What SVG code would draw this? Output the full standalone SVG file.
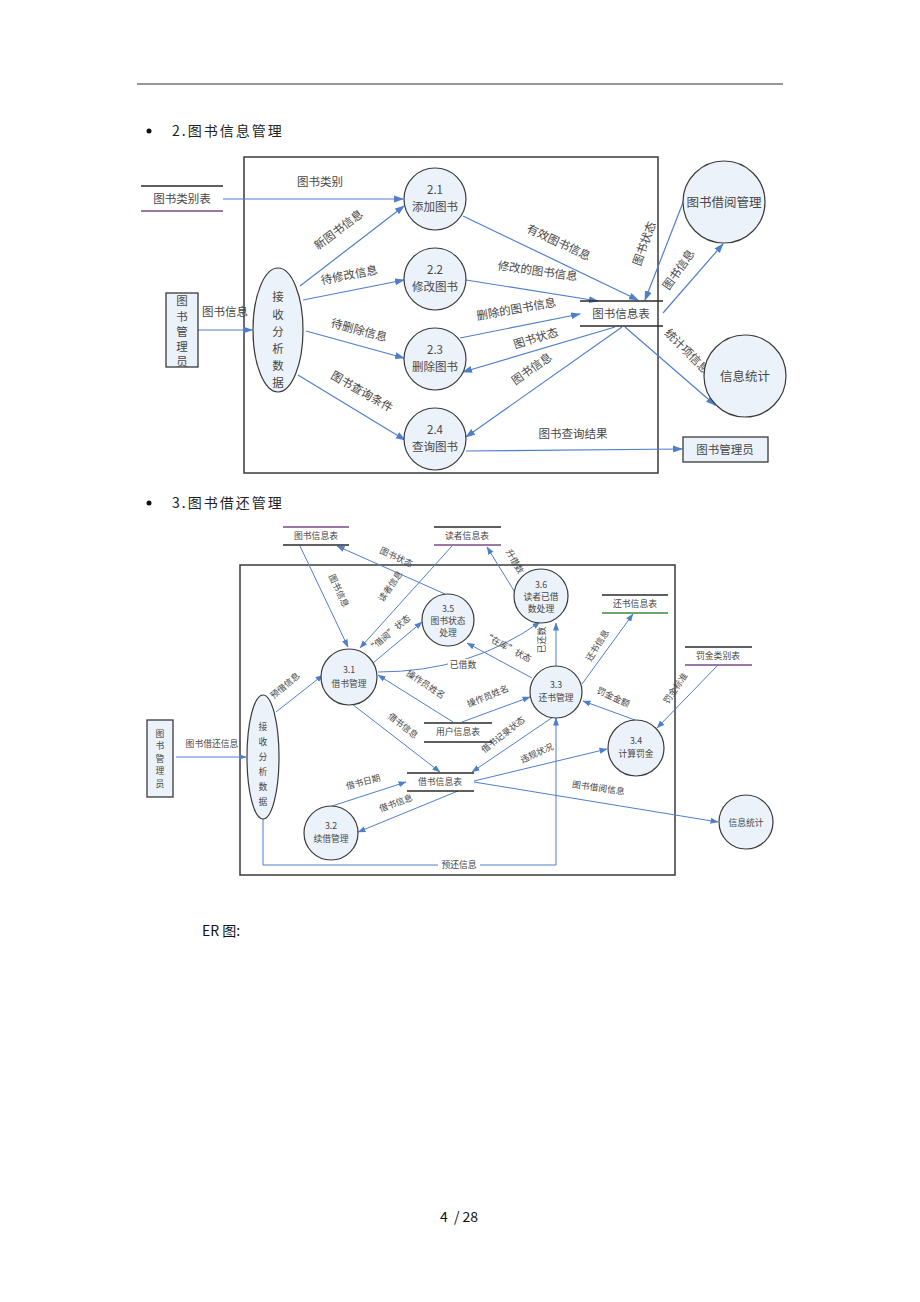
<svg xmlns="http://www.w3.org/2000/svg" width="920" height="1302" viewBox="0 0 920 1302">
<defs>
<style>
text{font-family:"Noto Sans CJK SC","Liberation Sans",sans-serif;fill:#474747}
.h{font-size:14px;letter-spacing:2px;fill:#222}
.t1{font-size:11.5px;text-anchor:middle}
.t2{font-size:8.8px;text-anchor:middle}
.c{fill:#ecf2f9;stroke:#3a3a3a;stroke-width:1.2}
.frame{fill:none;stroke:#3a3a3a;stroke-width:1.5}
.st{stroke:#2a2a2a;stroke-width:1.3}
.stp{stroke:#7a4a86;stroke-width:1.3}
.stg{stroke:#3a8a3a;stroke-width:1.3}
.a1{fill:none;stroke:#4f7fcc;stroke-width:1.2;marker-end:url(#m1)}
.a2{fill:none;stroke:#4f7fcc;stroke-width:1;marker-end:url(#m2)}
</style>
<marker id="m1" markerWidth="10" markerHeight="8" refX="9" refY="4" orient="auto" markerUnits="userSpaceOnUse"><path d="M0,0.5 L10,4 L0,7.5 z" fill="#4f7fcc"/></marker>
<marker id="m2" markerWidth="8" markerHeight="7" refX="7.5" refY="3.5" orient="auto" markerUnits="userSpaceOnUse"><path d="M0,0.5 L8,3.5 L0,6.5 z" fill="#4f7fcc"/></marker>
</defs>
<rect width="920" height="1302" fill="#fff"/>
<line x1="137" y1="84" x2="783" y2="84" stroke="#333" stroke-width="1.2"/>

<!-- Section 2 -->
<circle cx="149" cy="131" r="2.5" fill="#111"/>
<text class="h" x="172" y="136">2.图书信息管理</text>

<g id="frame2"><rect class="frame" x="244" y="157" width="414" height="316"/></g>

<g id="connectors2">
<line class="a1" x1="223" y1="199" x2="403" y2="199"/>
<line class="a1" x1="198" y1="330" x2="252" y2="330"/>
<line class="a1" x1="300" y1="286" x2="404" y2="206"/>
<line class="a1" x1="303" y1="300" x2="404" y2="280"/>
<line class="a1" x1="306" y1="331" x2="404" y2="358"/>
<line class="a1" x1="298" y1="375" x2="405" y2="440"/>
<line class="a1" x1="463" y1="216" x2="638" y2="300"/>
<line class="a1" x1="466" y1="280" x2="598" y2="301"/>
<line class="a1" x1="460" y1="338" x2="580" y2="314"/>
<line class="a1" x1="615" y1="327" x2="463" y2="372"/>
<line class="a1" x1="622" y1="327" x2="466" y2="437"/>
<line class="a1" x1="466" y1="451" x2="682" y2="449"/>
<line class="a1" x1="684" y1="200" x2="645" y2="300"/>
<line class="a1" x1="663" y1="313" x2="723" y2="244"/>
<line class="a1" x1="625" y1="327" x2="715" y2="405"/>
<text class="t1" x="320" y="186">图书类别</text>
<text class="t1" x="225" y="316">图书信息</text>
<text class="t1" transform="translate(341,233) rotate(-37)">新图书信息</text>
<text class="t1" transform="translate(350,279) rotate(-11)">待修改信息</text>
<text class="t1" transform="translate(358,334) rotate(15)">待删除信息</text>
<text class="t1" transform="translate(360,395) rotate(30)">图书查询条件</text>
<text class="t1" transform="translate(557,246) rotate(25)">有效图书信息</text>
<text class="t1" transform="translate(537,275) rotate(8)">修改的图书信息</text>
<text class="t1" transform="translate(517,313) rotate(-10)">删除的图书信息</text>
<text class="t1" transform="translate(537,342) rotate(-17)">图书状态</text>
<text class="t1" transform="translate(534,372) rotate(-35)">图书信息</text>
<text class="t1" x="573" y="438">图书查询结果</text>
<text class="t1" transform="translate(648,245) rotate(-70)">图书状态</text>
<text class="t1" transform="translate(682,272) rotate(-55)">图书信息</text>
<text class="t1" transform="translate(684,354) rotate(45)">统计项信息</text>
</g>

<g id="store-category">
<line class="st" x1="141" y1="186" x2="223" y2="186"/>
<line class="stp" x1="141" y1="211" x2="223" y2="211"/>
<text class="t1" x="182" y="203">图书类别表</text>
</g>
<g id="admin2">
<rect x="166" y="293" width="32" height="74" fill="#ecf2f9" stroke="#3a3a3a" stroke-width="1.3"/>
<text class="t1" x="182" y="305">图</text>
<text class="t1" x="182" y="321">书</text>
<text class="t1" x="182" y="336">管</text>
<text class="t1" x="182" y="351">理</text>
<text class="t1" x="182" y="366">员</text>
</g>
<g id="recv2">
<ellipse class="c" cx="278" cy="330" rx="25" ry="62"/>
<text class="t1" x="278" y="301">接</text>
<text class="t1" x="278" y="319">收</text>
<text class="t1" x="278" y="336">分</text>
<text class="t1" x="278" y="353">析</text>
<text class="t1" x="278" y="370">数</text>
<text class="t1" x="278" y="387">据</text>
</g>
<g id="p21"><circle class="c" cx="435" cy="199" r="31"/><text class="t1" x="435" y="194">2.1</text><text class="t1" x="435" y="211">添加图书</text></g>
<g id="p22"><circle class="c" cx="435" cy="279" r="31"/><text class="t1" x="435" y="274">2.2</text><text class="t1" x="435" y="291">修改图书</text></g>
<g id="p23"><circle class="c" cx="435" cy="359" r="31"/><text class="t1" x="435" y="354">2.3</text><text class="t1" x="435" y="371">删除图书</text></g>
<g id="p24"><circle class="c" cx="435" cy="439" r="31"/><text class="t1" x="435" y="434">2.4</text><text class="t1" x="435" y="451">查询图书</text></g>
<g id="store-bookinfo">
<line class="st" x1="580" y1="301" x2="663" y2="301"/>
<line class="st" x1="580" y1="326" x2="663" y2="326"/>
<text class="t1" x="621" y="318">图书信息表</text>
</g>
<g id="borrowmgr"><circle class="c" cx="724" cy="202" r="41"/><text class="t1" x="724" y="207" style="font-size:12.5px">图书借阅管理</text></g>
<g id="stats2"><circle class="c" cx="745" cy="376" r="41"/><text class="t1" x="745" y="381" style="font-size:12.5px">信息统计</text></g>
<g id="admin2b"><rect x="683" y="437" width="85" height="25" fill="#ecf2f9" stroke="#3a3a3a" stroke-width="1.3"/><text class="t1" x="725" y="454">图书管理员</text></g>

<!-- Section 3 -->
<circle cx="149" cy="503" r="2.5" fill="#111"/>
<text class="h" x="172" y="508">3.图书借还管理</text>

<g id="frame3"><rect class="frame" x="240" y="565" width="435" height="310"/></g>

<g id="connectors3">
<line class="a2" x1="176" y1="757" x2="246" y2="757"/>
<line class="a2" x1="276" y1="712" x2="323" y2="675"/>
<line class="a2" x1="300" y1="546" x2="348" y2="647"/>
<line class="a2" x1="452" y1="546" x2="360" y2="648"/>
<line class="a2" x1="445" y1="594" x2="337" y2="546"/>
<line class="a2" x1="373" y1="663" x2="422" y2="622"/>
<line class="a2" x1="516" y1="594" x2="487" y2="547"/>
<line class="a2" x1="556" y1="666" x2="556" y2="623"/>
<line class="a2" x1="532" y1="678" x2="467" y2="643"/>
<path class="a2" d="M378,672 Q470,672 540,622"/>
<line class="a2" x1="453" y1="722" x2="378" y2="675"/>
<line class="a2" x1="462" y1="722" x2="530" y2="697"/>
<line class="a2" x1="352" y1="704" x2="440" y2="772"/>
<line class="a2" x1="553" y1="717" x2="472" y2="772"/>
<line class="a2" x1="474" y1="781" x2="607" y2="749"/>
<line class="a2" x1="635" y1="720" x2="583" y2="701"/>
<line class="a2" x1="718" y1="665" x2="657" y2="728"/>
<line class="a2" x1="582" y1="684" x2="633" y2="614"/>
<line class="a2" x1="332" y1="806" x2="406" y2="782"/>
<line class="a2" x1="458" y1="791" x2="358" y2="832"/>
<line class="a2" x1="474" y1="782" x2="718" y2="822"/>
<path class="a2" d="M263,818 L263,865 L556,865 L556,718"/>
<text class="t2" x="212" y="747">图书借还信息</text>
<text class="t2" transform="translate(287,688) rotate(-40)">预借信息</text>
<text class="t2" transform="translate(336,592) rotate(65)">图书信息</text>
<text class="t2" transform="translate(393,588) rotate(-55)">读者信息</text>
<text class="t2" transform="translate(395,560) rotate(25)">图书状态</text>
<text class="t2" transform="translate(391,636) rotate(-40)">“借阅”状态</text>
<text class="t2" transform="translate(512,563) rotate(60)">升借数</text>
<text class="t2" transform="translate(545,640) rotate(-90)">已还数</text>
<text class="t2" transform="translate(506,650) rotate(28)">“在库”状态</text>
<rect x="448" y="659" width="30" height="10" fill="#fff"/>
<text class="t2" x="463" y="668">已借数</text>
<text class="t2" transform="translate(424,687) rotate(33)">操作员姓名</text>
<text class="t2" transform="translate(489,699) rotate(-22)">操作员姓名</text>
<text class="t2" transform="translate(401,728) rotate(38)">借书信息</text>
<text class="t2" transform="translate(505,737) rotate(-38)">借书记录状态</text>
<text class="t2" transform="translate(538,756) rotate(-24)">违规状况</text>
<text class="t2" transform="translate(612,700) rotate(25)">罚金金额</text>
<text class="t2" transform="translate(678,690) rotate(-55)">罚金标准</text>
<text class="t2" transform="translate(600,647) rotate(-58)">还书信息</text>
<text class="t2" transform="translate(364,785) rotate(-15)">借书日期</text>
<text class="t2" transform="translate(397,806) rotate(-20)">借书信息</text>
<text class="t2" transform="translate(598,791) rotate(8)">图书借阅信息</text>
<rect x="438" y="860" width="42" height="10" fill="#fff"/>
<text class="t2" x="459" y="868">预还信息</text>
</g>

<g id="admin3">
<rect x="147" y="720" width="26" height="77" fill="#ecf2f9" stroke="#3a3a3a" stroke-width="1.3"/>
<text class="t2" x="160" y="737">图</text>
<text class="t2" x="160" y="749">书</text>
<text class="t2" x="160" y="762">管</text>
<text class="t2" x="160" y="774">理</text>
<text class="t2" x="160" y="787">员</text>
</g>
<g id="recv3">
<ellipse class="c" cx="263" cy="757" rx="16" ry="62"/>
<text class="t2" x="263" y="730">接</text>
<text class="t2" x="263" y="745">收</text>
<text class="t2" x="263" y="760">分</text>
<text class="t2" x="263" y="775">析</text>
<text class="t2" x="263" y="790">数</text>
<text class="t2" x="263" y="805">据</text>
</g>
<g id="s-bookinfo3"><line class="stp" x1="283" y1="527" x2="349" y2="527"/><line class="st" x1="283" y1="545" x2="349" y2="545"/><text class="t2" x="316" y="539">图书信息表</text></g>
<g id="s-reader"><line class="st" x1="434" y1="527" x2="501" y2="527"/><line class="stp" x1="434" y1="545" x2="501" y2="545"/><text class="t2" x="467" y="539">读者信息表</text></g>
<g id="s-return"><line class="st" x1="602" y1="595" x2="668" y2="595"/><line class="stg" x1="602" y1="613" x2="668" y2="613"/><text class="t2" x="635" y="607">还书信息表</text></g>
<g id="s-fine"><line class="st" x1="685" y1="647" x2="752" y2="647"/><line class="stp" x1="685" y1="665" x2="752" y2="665"/><text class="t2" x="718" y="659">罚金类别表</text></g>
<g id="s-user"><line class="st" x1="424" y1="723" x2="492" y2="723"/><line class="st" x1="424" y1="742" x2="492" y2="742"/><text class="t2" x="458" y="735">用户信息表</text></g>
<g id="s-borrow"><line class="st" x1="407" y1="773" x2="474" y2="773"/><line class="st" x1="407" y1="791" x2="474" y2="791"/><text class="t2" x="440" y="785">借书信息表</text></g>
<g id="p31"><circle class="c" cx="349" cy="677" r="28"/><text class="t2" x="349" y="673">3.1</text><text class="t2" x="349" y="687">借书管理</text></g>
<g id="p35"><circle class="c" cx="448" cy="620" r="26"/><text class="t2" x="448" y="612">3.5</text><text class="t2" x="448" y="624">图书状态</text><text class="t2" x="448" y="636">处理</text></g>
<g id="p36"><circle class="c" cx="541" cy="596" r="27"/><text class="t2" x="541" y="588">3.6</text><text class="t2" x="541" y="600">读者已借</text><text class="t2" x="541" y="612">数处理</text></g>
<g id="p33"><circle class="c" cx="556" cy="692" r="26"/><text class="t2" x="556" y="688">3.3</text><text class="t2" x="556" y="701">还书管理</text></g>
<g id="p34"><circle class="c" cx="636" cy="748" r="28"/><text class="t2" x="636" y="744">3.4</text><text class="t2" x="636" y="757">计算罚金</text></g>
<g id="p32"><circle class="c" cx="331" cy="833" r="27"/><text class="t2" x="331" y="829">3.2</text><text class="t2" x="331" y="842">续借管理</text></g>
<g id="stats3"><circle class="c" cx="746" cy="822" r="27"/><text class="t2" x="746" y="826">信息统计</text></g>

<text x="202" y="936" style="font-size:14px;fill:#111">ER 图:</text>
<text x="459" y="1222" style="font-size:14px;fill:#111;text-anchor:middle" xml:space="preserve">4  / 28</text>
</svg>
